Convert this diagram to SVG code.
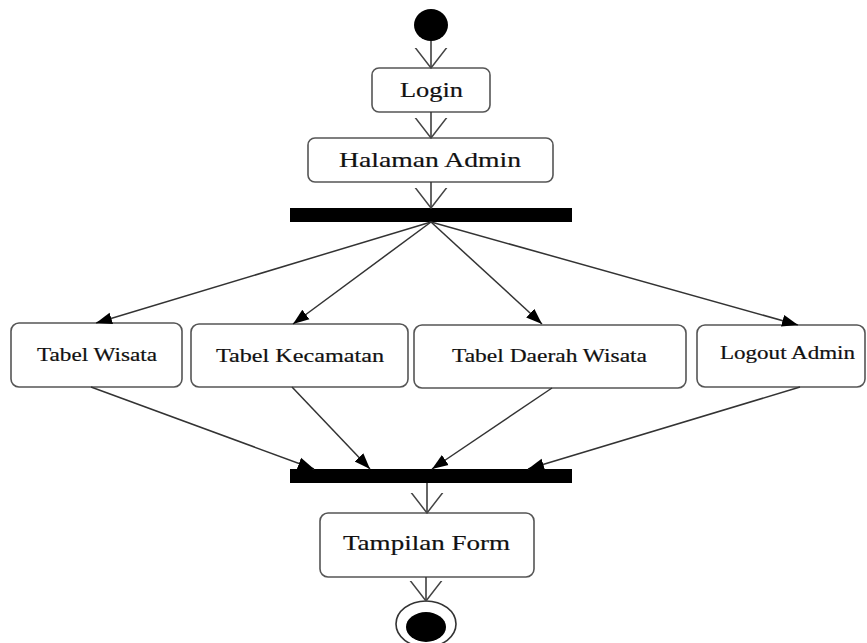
<svg xmlns="http://www.w3.org/2000/svg" width="867" height="643" viewBox="0 0 867 643">
<defs>
<marker id="open" markerWidth="40" markerHeight="40" refX="20" refY="20" orient="auto" markerUnits="userSpaceOnUse" viewBox="0 0 40 40">
<path d="M-2,3 L20,20 L-2,37" fill="none" stroke="#444" stroke-width="1.5"/>
</marker>
<marker id="filled" markerWidth="20" markerHeight="16" refX="16" refY="8" orient="auto" markerUnits="userSpaceOnUse" viewBox="0 0 20 16">
<path d="M0,2 L16,8 L0,14 Z" fill="#000"/>
</marker>
<style>
.box{fill:#fff;stroke:#555;stroke-width:1.6}
.lbl{font-family:"Liberation Serif","Times New Roman",serif;fill:#111;stroke:#111;stroke-width:0.2;text-anchor:start}
.big{font-size:22px}
.sm{font-size:19px}
.ln{stroke:#333;stroke-width:1.5;fill:none}
.op{marker-end:url(#open)}
.fl{marker-end:url(#filled)}
</style>
</defs>
<rect width="867" height="643" fill="#fff"/>

<g id="start"><ellipse cx="431" cy="25" rx="17" ry="16" fill="#000"/></g>

<g id="login"><rect class="box" x="372" y="68" width="118" height="44" rx="7"/><text class="lbl big" x="400" y="97" textLength="63" lengthAdjust="spacingAndGlyphs">Login</text></g>

<g id="halaman-admin"><rect class="box" x="308" y="138" width="245" height="44" rx="7"/><text class="lbl big" x="339" y="167" textLength="182" lengthAdjust="spacingAndGlyphs">Halaman Admin</text></g>

<g id="fork"><rect x="290" y="208" width="282" height="14" fill="#000"/></g>

<g id="tabel-wisata"><rect class="box" x="11" y="323" width="171" height="64" rx="8"/><text class="lbl sm" x="37" y="361" textLength="120" lengthAdjust="spacingAndGlyphs">Tabel Wisata</text></g>

<g id="tabel-kecamatan"><rect class="box" x="191" y="324" width="217" height="63" rx="8"/><text class="lbl sm" x="216" y="362" textLength="168" lengthAdjust="spacingAndGlyphs">Tabel Kecamatan</text></g>

<g id="tabel-daerah-wisata"><rect class="box" x="414" y="325" width="272" height="63" rx="8"/><text class="lbl sm" x="452" y="362" textLength="195" lengthAdjust="spacingAndGlyphs">Tabel Daerah Wisata</text></g>

<g id="logout-admin"><rect class="box" x="697" y="325" width="168" height="62" rx="8"/><text class="lbl sm" x="720" y="359" textLength="135" lengthAdjust="spacingAndGlyphs">Logout Admin</text></g>

<g id="join"><rect x="290" y="469" width="282" height="14" fill="#000"/></g>

<g id="tampilan-form"><rect class="box" x="320" y="513" width="214" height="64" rx="8"/><text class="lbl big" x="343" y="550" textLength="167" lengthAdjust="spacingAndGlyphs">Tampilan Form</text></g>

<g id="end"><ellipse cx="426" cy="624" rx="30" ry="23" fill="#fff" stroke="#333" stroke-width="1.6"/><ellipse cx="426" cy="627" rx="20" ry="15" fill="#000"/></g>

<g id="connectors">
<line class="ln op" x1="431" y1="41" x2="431" y2="68"/>
<line class="ln op" x1="431" y1="112" x2="431" y2="138"/>
<line class="ln op" x1="431" y1="182" x2="431" y2="208"/>
<line class="ln fl" x1="431" y1="222" x2="96" y2="323"/>
<line class="ln fl" x1="431" y1="222" x2="293" y2="324"/>
<line class="ln fl" x1="431" y1="222" x2="542" y2="324"/>
<line class="ln fl" x1="431" y1="222" x2="798" y2="325"/>
<line class="ln fl" x1="91" y1="387" x2="314" y2="469"/>
<line class="ln fl" x1="292" y1="387" x2="370" y2="469"/>
<line class="ln fl" x1="552" y1="388" x2="432" y2="469"/>
<line class="ln fl" x1="800" y1="387" x2="528" y2="469"/>
<line class="ln op" x1="427" y1="483" x2="427" y2="513"/>
<line class="ln op" x1="426" y1="577" x2="426" y2="601"/>
</g>
</svg>
